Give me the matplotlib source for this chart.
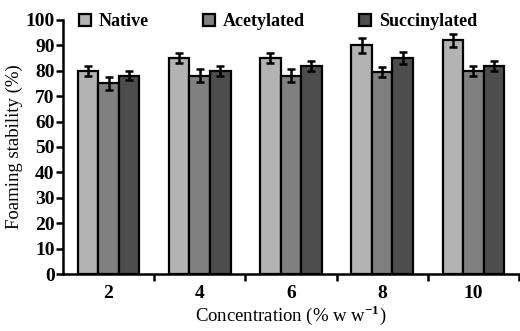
import numpy as np
import matplotlib
matplotlib.use('Agg')
import matplotlib.pyplot as plt

plt.rcParams['font.family'] = ['Liberation Serif', 'DejaVu Serif']
plt.rcParams['mathtext.fontset'] = 'custom'
plt.rcParams['mathtext.rm'] = 'Liberation Serif'
plt.rcParams['mathtext.bf'] = 'Liberation Serif:bold'

concentration = ['2', '4', '6', '8', '10']
native = [80, 85, 85, 90, 92]
acetylated = [75, 78, 78, 79.5, 80]
succinylated = [78, 80, 82, 85, 82]
native_err = [2, 2, 2, 3, 2.5]
acetylated_err = [2.5, 2.5, 2.5, 2, 2]
succinylated_err = [1.8, 2, 2, 2.5, 2]

series = [('Native', native, native_err, '#b3b3b3'),
          ('Acetylated', acetylated, acetylated_err, '#808080'),
          ('Succinylated', succinylated, succinylated_err, '#4d4d4d')]

fig = plt.figure(figsize=(5.2, 3.31), dpi=100)
ax = fig.add_axes([0.121, 0.172, 0.877, 0.768])

x = np.arange(len(concentration))
w = 0.225
for i, (name, vals, err, col) in enumerate(series):
    ax.bar(x + (i - 1) * w, vals, w, color=col, edgecolor='black',
           linewidth=1.6, label=name, zorder=2)
    ax.errorbar(x + (i - 1) * w, vals, yerr=err, fmt='none', ecolor='black',
                elinewidth=1.8, capsize=3, capthick=1.8, zorder=3)

ax.set_xlim(-0.5, 4.5)
ax.set_ylim(0, 100)
ax.set_yticks(range(0, 101, 10))
ax.set_xticks(np.arange(0.5, 5, 1))
ax.set_xticklabels([])
ax.set_xticks(x, minor=True)
ax.set_xticklabels(concentration, minor=True, fontweight='bold', fontsize=14)
ax.tick_params(axis='x', which='minor', length=0, pad=8)
ax.tick_params(axis='x', which='major', direction='out', length=5, width=1.8)
ax.tick_params(axis='y', direction='out', length=5, width=1.8, pad=1)
for lab in ax.get_yticklabels():
    lab.set_fontweight('bold')
    lab.set_fontsize(14)

for s in ['top', 'right']:
    ax.spines[s].set_visible(False)
for s in ['left', 'bottom']:
    ax.spines[s].set_linewidth(1.8)

ax.set_ylabel('Foaming stability (%)', fontsize=13.5, labelpad=2)
ax.set_xlabel(r'Concentration (% w w$^{\mathbf{-1}}$)', fontsize=13.5, labelpad=1)

ax.legend(loc='upper left', bbox_to_anchor=(0.02, 1.055), ncol=3, frameon=False,
          prop={'weight': 'bold', 'size': 13}, handlelength=0.65,
          handleheight=0.65, handletextpad=0.45, columnspacing=3.0,
          borderaxespad=0)

fig.savefig('out.png', dpi=100)
